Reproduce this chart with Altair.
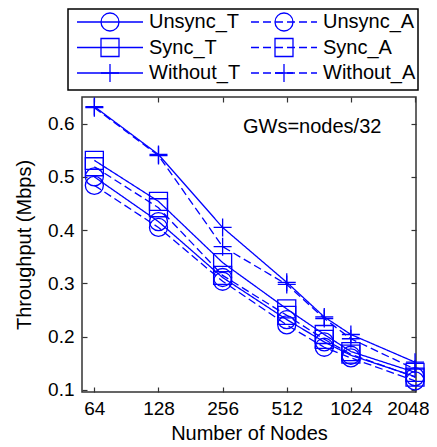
import altair as alt
import pandas as pd

# ---------------- data ----------------
nodes = [64, 128, 256, 512, 768, 1024, 2048]
series_names = ["Unsync_T", "Unsync_A", "Sync_T", "Sync_A", "Without_T", "Without_A"]
unsync_t = [0.500, 0.416, 0.311, 0.232, 0.190, 0.165, 0.125]
unsync_a = [0.484, 0.405, 0.304, 0.222, 0.180, 0.160, 0.117]
sync_t = [0.531, 0.454, 0.339, 0.252, 0.204, 0.172, 0.133]
sync_a = [0.519, 0.442, 0.315, 0.240, 0.195, 0.167, 0.124]
without_t = [0.632, 0.542, 0.405, 0.302, 0.237, 0.204, 0.152]
without_a = [0.630, 0.540, 0.369, 0.298, 0.234, 0.196, 0.139]
x_ticks = [64, 128, 256, 512, 1024, 2048]
y_ticks = [0.1, 0.2, 0.3, 0.4, 0.5, 0.6]
note_text = "GWs=nodes/32"
note_x = 319
note_y = 0.594

all_values = [unsync_t, unsync_a, sync_t, sync_a, without_t, without_a]
rows = []
for name, vals in zip(series_names, all_values):
    for n, v in zip(nodes, vals):
        rows.append({"series": name, "nodes": n, "tp": v})
df = pd.DataFrame(rows)

# ---------------- style ----------------
BLUE = "#0000ff"
FONT = "Liberation Sans"
FS = 20
LFS = 19
W, H = 334, 295

dash_scale = alt.Scale(domain=series_names,
                       range=[[1, 0], [8, 4], [1, 0], [8, 4], [1, 0], [8, 4]])
PLUS = "M-1,0H1M0,-1V1"
shape_scale = alt.Scale(domain=series_names,
                        range=["circle", "circle", "square", "square", PLUS, PLUS])
size_scale = alt.Scale(domain=series_names, range=[324, 324, 144, 144, 289, 289])

xs = alt.Scale(type="log", base=2, domain=[56, 2070], nice=False)
ys = alt.Scale(domain=[0.096, 0.65], nice=False, zero=False)

tick_common = dict(offset=-5, tickSize=5, domain=False, grid=False,
                   tickColor="#333333", tickWidth=1.2)

lines = alt.Chart(df).mark_line(color=BLUE, strokeWidth=1.3).encode(
    x=alt.X("nodes:Q", scale=xs,
            axis=alt.Axis(orient="bottom", values=x_ticks, format="d",
                          title="Number of Nodes", labelPadding=7,
                          labelFlush=2, labelFlushOffset=14, labelOverlap=False,
                          titlePadding=5, **tick_common)),
    y=alt.Y("tp:Q", scale=ys,
            axis=alt.Axis(orient="left", values=y_ticks, format=".1f",
                          title="Throughput (Mbps)", labelPadding=8,
                          labelFlush=False, labelOverlap=False,
                          titlePadding=13, **tick_common)),
    strokeDash=alt.StrokeDash("series:N", scale=dash_scale, legend=None),
)

points = alt.Chart(df).mark_point(filled=False, color=BLUE, strokeWidth=1.3,
                                  opacity=1).encode(
    x=alt.X("nodes:Q", scale=xs,
            axis=alt.Axis(orient="top", values=x_ticks, labels=False,
                          title=None, **tick_common)),
    y=alt.Y("tp:Q", scale=ys,
            axis=alt.Axis(orient="right", values=y_ticks, labels=False,
                          title=None, **tick_common)),
    shape=alt.Shape("series:N", scale=shape_scale, legend=None),
    size=alt.Size("series:N", scale=size_scale, legend=None),
)

note = alt.Chart(pd.DataFrame({"t": [note_text], "x": [note_x], "y": [note_y]})).mark_text(
    align="left", baseline="middle", fontSize=FS, font=FONT, color="black"
).encode(
    x=alt.X("x:Q", scale=xs, axis=None),
    y=alt.Y("y:Q", scale=ys, axis=None),
    text="t:N",
)

main = alt.layer(lines, points, note).resolve_axis(x="independent", y="independent")

# ---------------- legend panel (own scales) ----------------
LEG_W, LEG_H = 350, 81
LEG_LEFT, LEG_TOP = -14, -88   # relative to plot area
leg_df = pd.DataFrame({"series": series_names,
                       "col": [0, 1, 0, 1, 0, 1],
                       "row": [0, 0, 1, 1, 2, 2]})
lxs = alt.Scale(domain=[0, LEG_W], range=[LEG_LEFT, LEG_LEFT + LEG_W], nice=False, zero=False)
lys = alt.Scale(domain=[0, LEG_H], range=[LEG_TOP, LEG_TOP + LEG_H], nice=False, zero=False)

lbase = alt.Chart(leg_df).transform_calculate(
    x1="9 + 174*datum.col",
    x2="75 + 174*datum.col",
    xm="42 + 174*datum.col",
    xl="81 + 174*datum.col",
    yy="13 + 25.5*datum.row",
)
leg_rules = lbase.mark_rule(color=BLUE, strokeWidth=1.3).encode(
    x=alt.X("x1:Q", scale=lxs, axis=None),
    x2="x2:Q",
    y=alt.Y("yy:Q", scale=lys, axis=None),
    strokeDash=alt.StrokeDash("series:N", scale=dash_scale, legend=None),
)
leg_pts = lbase.mark_point(filled=False, color=BLUE, strokeWidth=1.3, opacity=1).encode(
    x=alt.X("xm:Q", scale=lxs, axis=None),
    y=alt.Y("yy:Q", scale=lys, axis=None),
    shape=alt.Shape("series:N", scale=shape_scale, legend=None),
    size=alt.Size("series:N", scale=size_scale, legend=None),
)
leg_txt = lbase.mark_text(align="left", baseline="middle", fontSize=FS, font=FONT,
                          color="black").encode(
    x=alt.X("xl:Q", scale=lxs, axis=None),
    y=alt.Y("yy:Q", scale=lys, axis=None),
    text="series:N",
)
leg_box = alt.Chart(pd.DataFrame({"a": [0]})).mark_rect(
    fillOpacity=0, stroke="black", strokeWidth=1.5
).encode(
    x=alt.X(datum=0, scale=lxs, axis=None),
    x2=alt.X2(datum=LEG_W),
    y=alt.Y(datum=0, scale=lys, axis=None),
    y2=alt.Y2(datum=LEG_H),
)
legend = alt.layer(leg_box, leg_rules, leg_pts, leg_txt)

chart = alt.layer(main, legend).resolve_scale(
    x="independent", y="independent"
).properties(
    width=W, height=H,
    autosize=alt.AutoSizeParams(type="none"),
    padding={"left": 74, "top": 89, "right": 13, "bottom": 52},
).configure_view(
    stroke="#333333", strokeWidth=1.5
).configure_axis(
    labelFont=FONT, titleFont=FONT, labelFontSize=LFS, titleFontSize=FS,
    labelColor="black", titleColor="black", titleFontWeight="normal",
)

chart.save("out.html", embed_options={"renderer": "svg", "actions": False})
